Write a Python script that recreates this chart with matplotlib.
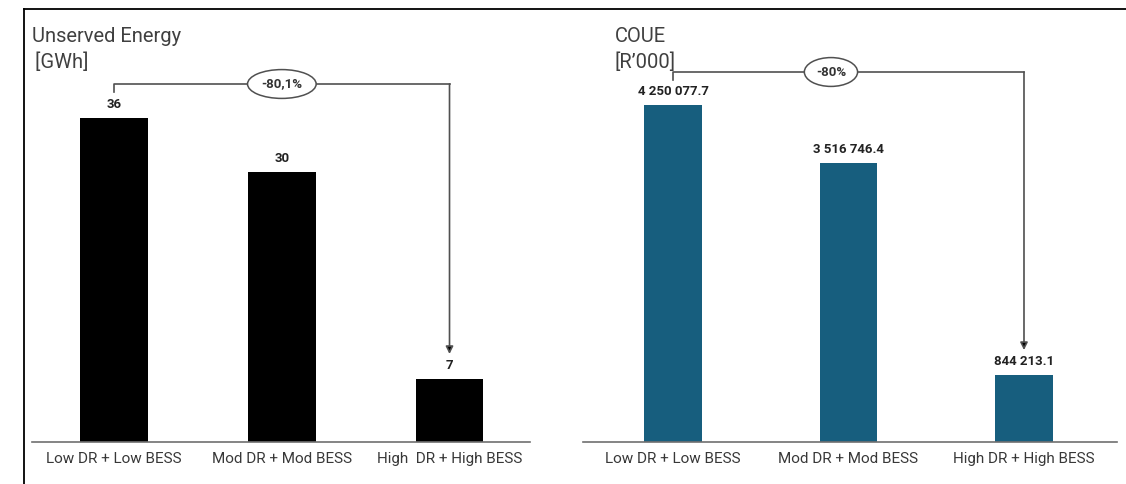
import matplotlib.pyplot as plt
from matplotlib.lines import Line2D

plt.rcParams['font.family'] = ['Roboto', 'DejaVu Sans']

W, H = 1126, 484

scenarios_left = ['Low DR + Low BESS', 'Mod DR + Mod BESS', 'High  DR + High BESS']
scenarios_right = ['Low DR + Low BESS', 'Mod DR + Mod BESS', 'High DR + High BESS']
unserved_energy = [36, 30, 7]          # GWh
coue = [4250077.7, 3516746.4, 844213.1]  # R'000
change_left = '-80,1%'
change_right = '-80%'

BLUE = '#175e7e'
TXT = '#404040'
LINE = '#505050'


def px_axes(x0, x1, y_top, y_base):
    # axes placed in pixel coordinates of the figure
    return fig.add_axes([x0 / W, 1 - y_base / H, (x1 - x0) / W, (y_base - y_top) / H])


def panel(ax, labels, values, color, fmt, xlim, ymax, width):
    x = range(len(values))
    ax.bar(x, values, width=width, color=color, zorder=2)
    ax.set_xlim(*xlim)
    ax.set_ylim(0, ymax)
    ax.set_xticks(list(x))
    ax.set_xticklabels(labels, fontsize=11, color='#383838')
    ax.tick_params(axis='x', length=0, pad=7)
    ax.set_yticks([])
    for s in ['top', 'right', 'left']:
        ax.spines[s].set_visible(False)
    ax.spines['bottom'].set_color('#707070')
    ax.spines['bottom'].set_linewidth(1.2)
    for xi, v in zip(x, values):
        ax.annotate(fmt(v), (xi, v), xytext=(0, 5), textcoords='offset points',
                    ha='center', va='bottom', fontsize=9.5, fontweight='bold', color='#222222')


def bracket(ax, values, y_line, y_tick, label, label_x):
    x0, x1 = 0, len(values) - 1
    ax.plot([x0, x0, x1], [y_tick, y_line, y_line], color=LINE, lw=1.2, clip_on=False)
    ax.annotate('', xy=(x1, values[-1]), xytext=(x1, y_line),
                xycoords='data', textcoords='data',
                arrowprops=dict(arrowstyle='-|>', color=LINE, fc='black', lw=1.2,
                                mutation_scale=11, shrinkA=0, shrinkB=18),
                annotation_clip=False)
    ax.text(label_x, y_line, label, ha='center', va='center', fontsize=9.5,
            fontweight='bold', color='#333333',
            bbox=dict(boxstyle='ellipse,pad=0.28', fc='white', ec=LINE, lw=1.1))


fig = plt.figure(figsize=(W / 100, H / 100), dpi=100)

ax1 = px_axes(32, 530, 9, 442)
panel(ax1, scenarios_left, unserved_energy, 'black', lambda v: f'{v:.0f}',
      (-0.49, 2.48), 433 / 9, 0.405)
bracket(ax1, unserved_energy, 358 / 9, 350 / 9, change_left, 1.0)

ax2 = px_axes(583, 1117, 9, 442)
s2 = coue[0] / 337
panel(ax2, scenarios_right, coue, BLUE, lambda v: f'{v:,.1f}'.replace(',', ' '),
      (-0.513, 2.53), 433 * s2, 0.33)
bracket(ax2, coue, 370 * s2, 362 * s2, change_right, 0.9)

# titles
fig.text(32 / W, 1 - 37 / H, 'Unserved Energy', fontsize=14.5, color=TXT, va='center')
fig.text(30 / W, 1 - 62 / H, ' [GWh]', fontsize=14.5, color=TXT, va='center')
fig.text(615 / W, 1 - 37 / H, 'COUE', fontsize=14.5, color=TXT, va='center')
fig.text(614 / W, 1 - 62 / H, '[R\u2019000]', fontsize=14.5, color=TXT, va='center')

# outer frame: top and left edges
fig.add_artist(Line2D([24 / W, 1], [1 - 9 / H, 1 - 9 / H], color='black', lw=1.3))
fig.add_artist(Line2D([24 / W, 24 / W], [0, 1 - 9 / H], color='black', lw=1.3))

fig.savefig('out.png', dpi=100)
